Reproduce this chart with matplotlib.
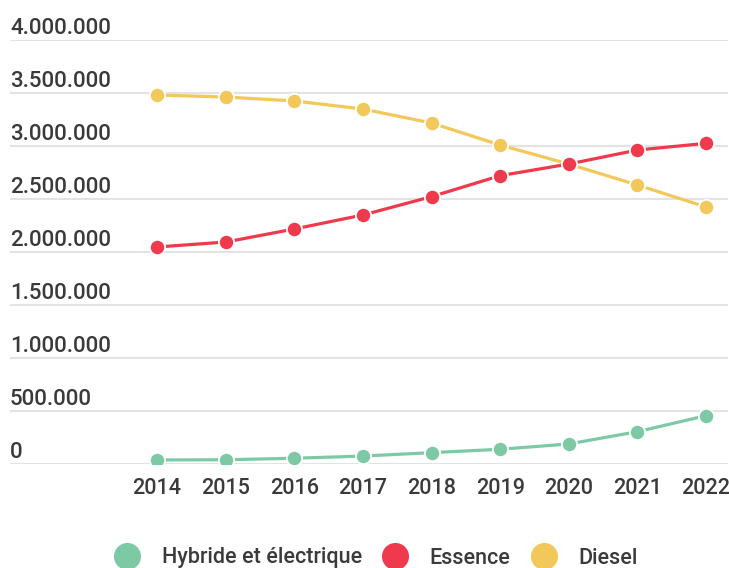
import matplotlib.pyplot as plt
from matplotlib.lines import Line2D

plt.rcParams['font.family'] = ['Roboto', 'DejaVu Sans']

annees = [2014, 2015, 2016, 2017, 2018, 2019, 2020, 2021, 2022]

hybride = [38000, 40000, 54000, 75000, 107000, 139000, 189000, 305000, 456000]
essence = [2047000, 2094000, 2217000, 2349000, 2522000, 2720000, 2830000, 2962000, 3025000]
diesel = [3481000, 3462000, 3425000, 3349000, 3217000, 3009000, 2830000, 2632000, 2425000]

graduations = [0, 500000, 1000000, 1500000, 2000000, 2500000, 3000000, 3500000, 4000000]

couleurs = {'Hybride et électrique': '#7dc9a5', 'Essence': '#ee3a4c', 'Diesel': '#f2c85b'}
series = {'Hybride et électrique': hybride, 'Essence': essence, 'Diesel': diesel}

def format_fr(v):
    return f"{v:,}".replace(",", ".")

fig = plt.figure(figsize=(7.29, 5.68), dpi=100)
ax = fig.add_axes([10 / 729, 104 / 568, 718 / 729, 424 / 568])

ax.set_xlim(2011.858, 2022.32)
ax.set_ylim(0, 4000000)

# lignes horizontales de la grille + libellés au-dessus
for v in graduations:
    ax.axhline(v, color='#e3e3e3', lw=1.5, zorder=0)
    ax.annotate(format_fr(v), xy=(0, v), xycoords=('axes fraction', 'data'),
                xytext=(0, 6), textcoords='offset pixels',
                ha='left', va='baseline', fontsize=16, fontweight='medium',
                color='#3a3a3a')

# ordre de tracé : diesel derrière, essence au-dessus
for nom in ['Hybride et électrique', 'Diesel', 'Essence']:
    ax.plot(annees, series[nom], color=couleurs[nom], lw=2.3, marker='o',
            markersize=11, markeredgecolor='white', markeredgewidth=1.3,
            solid_capstyle='round', zorder=3)

ax.set_xticks(annees)
ax.set_xticklabels([str(a) for a in annees], fontsize=15.5, fontweight='medium',
                   color='#3a3a3a')
ax.tick_params(axis='x', length=0, pad=10)
ax.set_yticks([])
for s in ax.spines.values():
    s.set_visible(False)

# légende en bas
poignees = [Line2D([], [], lw=0, marker='o', markersize=19.5, color=couleurs[n],
                   markeredgewidth=0) for n in series]
fig.legend(poignees, list(series.keys()), loc='center', ncol=3,
           bbox_to_anchor=(376 / 729, 1 - 558 / 568), frameon=False,
           prop={'size': 15.5, 'weight': 'medium'}, labelcolor='#3a3a3a',
           handletextpad=1.0, columnspacing=0.95, handlelength=1.2)

fig.savefig('out.png', dpi=100)
